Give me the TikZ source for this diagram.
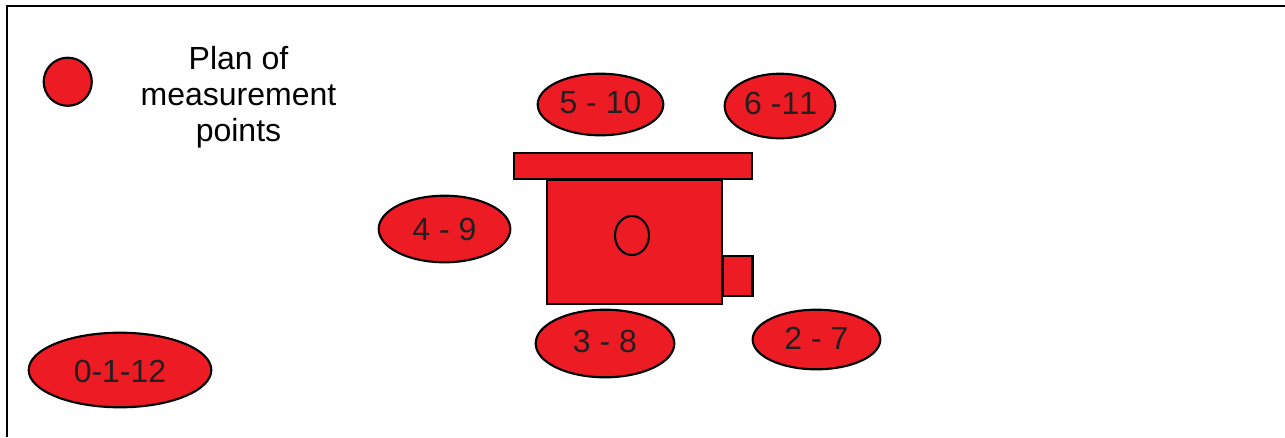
\documentclass[tikz,border=0pt]{standalone}
\usepackage{fontspec}
\setmainfont[Kerning=Off]{Liberation Sans}
\usetikzlibrary{shapes.geometric}
\definecolor{pointred}{HTML}{ED1C24}
\definecolor{labelink}{HTML}{231F20}
\tikzset{
  x=0.75pt,y=-0.75pt,
  point/.style={ellipse,draw=black,fill=pointred,line width=1.6pt,inner sep=0pt,
    font=\fontsize{24pt}{27pt}\selectfont,text=labelink},
  part/.style={rectangle,draw=black,fill=pointred,line width=1.6pt,inner sep=0pt},
  frameline/.style={draw=black,line width=1.6pt},
  legendtext/.style={font=\fontsize{24pt}{27pt}\selectfont,align=center,text=black,inner sep=0pt}
}
\newcommand{\ptnode}[7]{% name, x0, x1, y0, y1, text, upward shift in px
  \node[point,minimum width={(#3-#2-1.4)*0.75pt},minimum height={(#5-#4-1.4)*0.75pt}] (#1) at ({(#2+#3)/2},{(#4+#5)/2}) {\raisebox{\dimexpr-8.6pt+#7pt*3/4\relax}[0pt][0pt]{#6}};}
\begin{document}
\begin{tikzpicture}
\useasboundingbox (0,0) rectangle (1285,437);
\coordinate (frameBL) at (7,437);
\coordinate (frameTL) at (7,6);
\coordinate (frameTR) at (1285,6);
\draw[frameline] (frameBL) -- (frameTL) -- (frameTR);
\ptnode{legend}{43}{92.5}{57}{106.5}{}{0}
\node[legendtext] (title) at (238.5,97) {Plan of\\measurement\\points};
\ptnode{p0}{28}{212}{332}{408}{0-1-12}{-1.5}
\ptnode{p5}{537}{664}{73}{136}{5 - 10}{2.5}
\ptnode{p6}{724}{836}{73}{139}{\hspace{1pt}6 -11}{3}
\ptnode{p4}{378}{511}{195}{263}{4 - 9}{-0.5}
\ptnode{p3}{535}{675}{309}{378}{3 - 8}{2.5}
\ptnode{p2}{752}{881}{309}{370}{2 - 7}{1.8}
\node[part,minimum width=131pt,minimum height=92.75pt] (body) at (634.25,242.25) {};
\node[part,minimum width=179pt,minimum height=20pt] (bar) at (633,166) {};
\node[part,minimum width=22.5pt,minimum height=30.5pt] (box) at (737.5,276) {};
\node[ellipse,draw=black,line width=1.6pt,inner sep=0pt,minimum width=25.5pt,minimum height=29.25pt] (hole) at (632,235.5) {};
\end{tikzpicture}
\end{document}
